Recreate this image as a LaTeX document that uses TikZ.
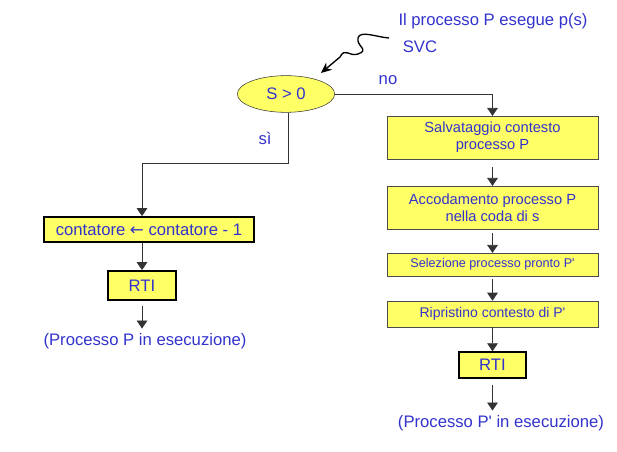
\documentclass[tikz,border=0pt]{standalone}
\usepackage{fontspec}
\setmainfont{Liberation Sans}
\newfontfamily\arrowfont{DejaVu Sans}
\usetikzlibrary{arrows.meta, shapes.geometric}
\definecolor{boxyellow}{RGB}{255,255,102}
\definecolor{txtblue}{RGB}{51,51,204}

\begin{document}
\begin{tikzpicture}[x=0.75pt, y=-0.75pt,
    every node/.style={font=\fontsize{12.5}{14}\selectfont, text=txtblue},
    stepbox/.style={draw=black!70, fill=boxyellow, align=center, minimum width=158pt, inner sep=1pt},
    keybox/.style={draw=black, line width=1.6pt, fill=boxyellow, inner sep=1pt},
    flow/.style={draw=black!80, line width=0.6pt, -{Triangle[length=6pt,width=8pt]}}]

    \useasboundingbox (0,0) rectangle (617,452);

    % SVC entry
    \node (title) at (493,21) {Il processo P esegue p(s)};
    \node (svc) at (420,47) {SVC};
    \coordinate (svcfrom) at (389,38);
    \coordinate (svcto) at (321,73);

    % test on S
    \node[ellipse, draw=black!80, fill=boxyellow, minimum width=73pt, minimum height=27.5pt] (test) at (286,94) {S > 0};
    \node (no) at (388,80) {no};
    \node (si) at (265,138) {sì};

    \draw[line width=1pt, -{Stealth[length=8pt,width=7pt]}] (svcfrom)
        .. controls (376,37) and (360,30) .. (358,38)
        .. controls (356,46) and (370,50) .. (358,54)
        .. controls (349,57) and (345,47) .. (340,57)
        -- (svcto);

    % left branch: S > 0
    \node[keybox, minimum width=158pt, minimum height=18.5pt] (count) at (149,229.5) {contatore {\arrowfont ←} contatore - 1};
    \node[keybox, minimum width=51pt, minimum height=21.5pt] (rtileft) at (142,285.5) {RTI};
    \node (runleft) at (145,341) {(Processo P in esecuzione)};

    \draw[flow] ([xshift=2pt]test.south) -- ++(0,51) -| (rtileft |- count.north);
    \draw[flow] (rtileft |- count.south) -- (rtileft.north);
    \draw[flow, shorten <=4pt] (rtileft.south) -- (runleft.north -| rtileft);

    % right branch: S = 0
    \node[stepbox, minimum height=32pt, font=\fontsize{11}{12.5}\selectfont] (save) at (492.5,137.5) {Salvataggio contesto\\processo P};
    \node[stepbox, minimum height=32pt, font=\fontsize{11}{12.5}\selectfont] (queue) at (492.5,207.5) {Accodamento processo P\\nella coda di s};
    \node[stepbox, minimum height=17pt, font=\fontsize{9.5}{11}\selectfont] (pick) at (492.5,264.5) {Selezione processo pronto P\textquotesingle};
    \node[stepbox, minimum height=19.5pt, font=\fontsize{10.5}{12}\selectfont] (restore) at (492.5,314) {Ripristino contesto di P\textquotesingle};
    \node[keybox, minimum width=50pt, minimum height=19pt] (rtiright) at (492.5,365) {RTI};
    \node (runright) at (501,423) {(Processo P\textquotesingle{} in esecuzione)};

    \draw[flow] (test.east) -| (save.north);
    \draw[flow, shorten <=6pt] (save) -- (queue);
    \draw[flow, shorten <=3pt] (queue) -- (pick);
    \draw[flow, shorten <=2pt] (pick) -- (restore);
    \draw[flow] (restore) -- (rtiright);
    \draw[flow, shorten <=4.5pt] (rtiright.south) -- (runright.north -| rtiright);

\end{tikzpicture}
\end{document}
